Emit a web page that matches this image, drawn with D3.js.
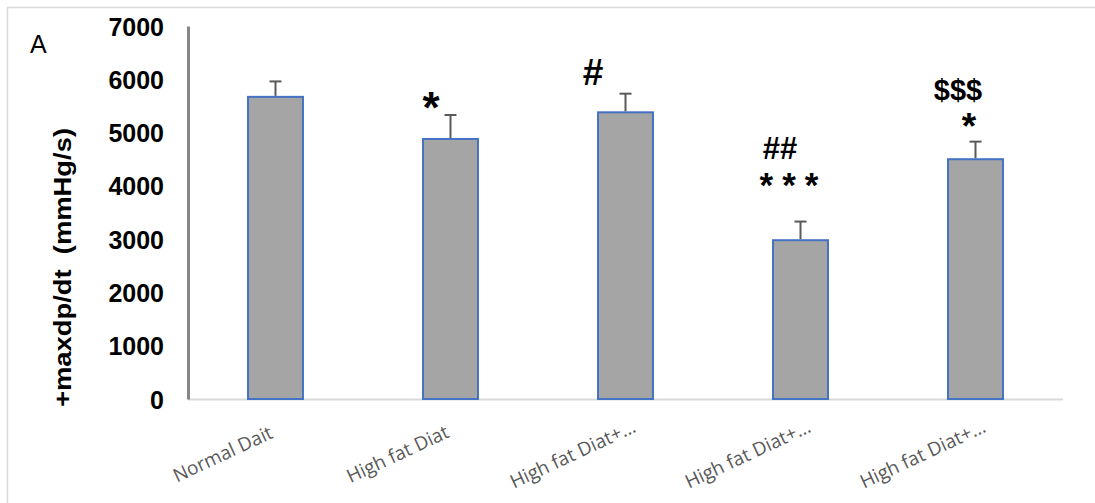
<!DOCTYPE html>
<html>
<head>
<meta charset="utf-8">
<script src="https://cdn.jsdelivr.net/npm/d3@7"></script>
<style>
  html, body { margin: 0; padding: 0; background: #fff; }
  svg { display: block; }
</style>
</head>
<body>
<svg id="chart" width="1095" height="503"></svg>
<script>
// Groups, means and SEM for +dp/dt max
const categories = ["Normal Dait", "High fat Diat", "High fat Diat+…", "High fat Diat+…", "High fat Diat+…"];
const means = [5670, 4880, 5380, 2980, 4500];
const errors = [290, 450, 350, 350, 330];
const yTicks = [0, 1000, 2000, 3000, 4000, 5000, 6000, 7000];
// Significance marks per group, listed top to bottom
const markText = [[], ["*"], ["#"], ["##", "***"], ["$$$", "*"]];

// Per-line styling: [size, dx from bar centre, baseline offset from error cap, letter spacing]
const markStyle = [
  [],
  [[44, -19.5, 8, 0]],
  [[37, -32.5, -9, 0]],
  [[31, -20.5, -63, 0], [35, -11.5, -24.5, 9]],
  [[29, -17.5, -41.6, 0], [37, -6.5, -3, 0]]
];

const svg = d3.select("#chart");
const W = 1095, H = 503;
const m = { left: 188, right: 1063, top: 26, bottom: 399 };

// Outer frame
svg.append("rect")
  .attr("x", 7.5).attr("y", 7.5)
  .attr("width", W + 20).attr("height", H + 20)
  .attr("fill", "none").attr("stroke", "#d9d9d9").attr("stroke-width", 1.5);

const x = d3.scaleBand()
  .domain(d3.range(categories.length))
  .range([m.left, m.right])
  .paddingInner(0.686).paddingOuter(0.343);

const y = d3.scaleLinear().domain([0, 7000]).range([m.bottom, m.top]);

// Baseline
svg.append("line")
  .attr("x1", m.left).attr("x2", m.right)
  .attr("y1", y(0) + 0.5).attr("y2", y(0) + 0.5)
  .attr("stroke", "#d9d9d9").attr("stroke-width", 2);

// Bars
svg.append("g").selectAll("rect")
  .data(means)
  .join("rect")
  .attr("x", (d, i) => x(i))
  .attr("y", d => y(d))
  .attr("width", x.bandwidth())
  .attr("height", d => y(0) - y(d))
  .attr("fill", "#a5a5a5")
  .attr("stroke", "#4472c4")
  .attr("stroke-width", 2);

// Error bars (upper only)
const eb = svg.append("g").attr("stroke", "#595959").attr("stroke-width", 2);
means.forEach((v, i) => {
  const cx = x(i) + x.bandwidth() / 2;
  eb.append("line").attr("x1", cx).attr("x2", cx)
    .attr("y1", y(v) - 1).attr("y2", y(v + errors[i]));
  eb.append("line").attr("x1", cx - 6).attr("x2", cx + 6)
    .attr("y1", y(v + errors[i])).attr("y2", y(v + errors[i]));
});

// Y axis
const yAxis = d3.axisLeft(y).tickValues(yTicks).tickFormat(d3.format("d"))
  .tickSize(0).tickPadding(24);
const ya = svg.append("g").attr("transform", `translate(${m.left},0)`).call(yAxis);
ya.select(".domain").attr("stroke", "#868686").attr("stroke-width", 3);
ya.selectAll("text")
  .attr("font-family", "Liberation Sans, Arial, sans-serif")
  .attr("font-size", 25).attr("font-weight", "bold").attr("fill", "#000")
  .attr("dy", "0.36em");

// X axis labels, rotated
const xa = svg.append("g").attr("transform", `translate(0,${y(0)})`)
  .call(d3.axisBottom(x).tickFormat(i => categories[i]).tickSize(0));
xa.select(".domain").remove();
xa.selectAll("text")
  .attr("font-family", "Open Sans, sans-serif")
  .attr("font-size", 19).attr("fill", "#595959")
  .attr("text-anchor", "middle")
  .attr("x", 0).attr("y", 0).attr("dy", 0)
  .attr("transform", "translate(-50,61) rotate(-25)");

// Y axis title
svg.append("text")
  .attr("transform", `translate(71,267.5) rotate(-90)`)
  .attr("text-anchor", "middle")
  .attr("font-family", "Liberation Sans, Arial, sans-serif")
  .attr("font-size", 24).attr("font-weight", "bold").attr("fill", "#000")
  .attr("xml:space", "preserve")
  .attr("textLength", 279).attr("lengthAdjust", "spacingAndGlyphs")
  .text("+maxdp/dt  (mmHg/s)");

// Panel letter
svg.append("text")
  .attr("x", 30).attr("y", 53)
  .attr("font-family", "Liberation Sans, Arial, sans-serif")
  .attr("font-size", 25).attr("fill", "#000")
  .text("A");

// Significance marks above each bar
markText.forEach((list, i) => {
  const cx = x(i) + x.bandwidth() / 2;
  const capY = y(means[i] + errors[i]);
  list.forEach((txt, j) => {
    const [size, dx, dy, ls] = markStyle[i][j];
    svg.append("text")
      .attr("x", cx + dx + ls / 2)
      .attr("y", capY + dy)
      .attr("text-anchor", "middle")
      .attr("fill", "#000")
      .attr("font-size", size)
      .attr("font-family", "Liberation Sans, Arial, sans-serif")
      .attr("font-weight", "bold")
      .attr("letter-spacing", ls)
      .text(txt);
  });
});
</script>
</body>
</html>
